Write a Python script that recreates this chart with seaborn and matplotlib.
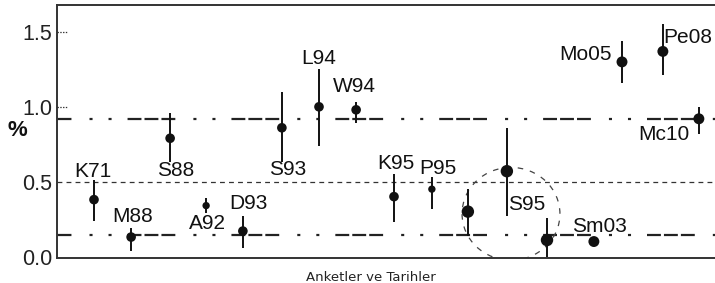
import matplotlib
matplotlib.use("Agg")
import matplotlib.pyplot as plt
from matplotlib.patches import Ellipse
import pandas as pd
import seaborn as sns

# anket verileri
names = ["K71", "M88", "S88", "A92", "D93", "S93", "L94", "W94", "K95", "P95",
         "", "S95", "", "Sm03", "Mo05", "Pe08", "Mc10"]
xpos = [0, 0.99, 2.03, 2.99, 3.97, 5.01, 6.0, 6.99, 8.0, 9.01,
        9.97, 11.01, 12.08, 13.33, 14.08, 15.17, 16.13]
vals = [0.38, 0.13, 0.79, 0.34, 0.17, 0.86, 1.00, 0.98, 0.40, 0.45,
        0.30, 0.57, 0.11, 0.10, 1.30, 1.37, 0.92]
err_lo = [0.24, 0.04, 0.63, 0.29, 0.06, 0.63, 0.74, 0.89, 0.23, 0.32,
          0.14, 0.27, 0.0, 0.10, 1.16, 1.21, 0.82]
err_hi = [0.51, 0.19, 0.96, 0.39, 0.27, 1.10, 1.25, 1.03, 0.55, 0.53,
          0.45, 0.86, 0.26, 0.10, 1.44, 1.55, 1.00]
weight = [2, 2, 2, 1, 2, 2, 2, 2, 2, 1, 4, 4, 4, 3, 3, 3, 3]

ref_lines = [0.916, 0.144]
mid_line = 0.5
yticks = [0.0, 0.5, 1.0, 1.5]

# etiket konumlari (offset points)
label_off = {
    "K71": (-1, 20), "M88": (1, 15), "S88": (4, -23), "A92": (1, -13),
    "D93": (4, 20), "S93": (4, -30), "L94": (0, 35), "W94": (-1, 17),
    "K95": (1, 24), "P95": (4, 15), "S95": (14, -24), "Sm03": (4, 11),
    "Mo05": (-26, 5), "Pe08": (18, 10), "Mc10": (-25, -11),
}

df = pd.DataFrame({"x": xpos, "y": vals, "w": weight, "name": names})

sns.set_style("ticks")
plt.rcParams["font.family"] = ["Liberation Sans", "DejaVu Sans"]
plt.rcParams["lines.scale_dashes"] = False

fig = plt.figure(figsize=(7.15, 2.83), dpi=100)
ax = fig.add_axes([0.0797, 0.0883, 0.9203, 0.894])

dashdot = (24, (10, 2.2, 10, 2.2, 10, 13, 2.2, 11.5, 2.2, 11.5))
for yl in ref_lines:
    ax.axhline(yl, color="#222222", lw=1.6, linestyle=dashdot, zorder=1)
ax.axhline(mid_line, color="#333333", lw=0.9, linestyle=(0, (3.5, 3)), zorder=1)
for yt in [1.0, 1.5]:
    ax.axhline(yt, xmin=0, xmax=0.017, color="#333333", lw=0.9,
               linestyle=(0, (1, 1)), zorder=1)

ax.vlines(df["x"], err_lo, err_hi, color="#111111", lw=1.4, zorder=2)
sns.scatterplot(data=df, x="x", y="y", size="w",
                sizes={1: 28, 2: 48, 3: 62, 4: 80},
                color="#111111", edgecolor="none", legend=False, ax=ax, zorder=3)

for n, x, y in zip(names, xpos, vals):
    if n:
        dx, dy = label_off[n]
        ax.annotate(n, (x, y), xytext=(dx, dy), textcoords="offset points",
                    ha="center", va="center", fontsize=15, color="#111111")

ax.add_patch(Ellipse((11.12, 0.285), 2.61, 0.62, fill=False, edgecolor="#444444",
                     lw=0.9, linestyle=(0, (4, 5)), zorder=1))

ax.set_xlim(-0.987, 16.56)
ax.set_ylim(-0.01, 1.68)
ax.set_yticks(yticks)
ax.set_yticklabels([f"{t:.1f}" for t in yticks], fontsize=15.5, color="#222222")
ax.set_xticks([])
ax.tick_params(axis="y", length=0, pad=3.5)

for s in ["left", "top", "bottom"]:
    ax.spines[s].set_color("#333333")
    ax.spines[s].set_linewidth(1.4)
ax.spines["right"].set_visible(False)

ax.set_ylabel("%", rotation=0, fontsize=16, fontweight="bold", color="#111111",
              va="center", ha="center")
ax.yaxis.set_label_coords(-0.060, 0.505)
ax.set_xlabel("Anketler ve Tarihler", fontsize=9.5, family="DejaVu Sans", color="#222222")
ax.xaxis.set_label_coords(0.477, -0.051)

fig.savefig("out.png", dpi=100)
